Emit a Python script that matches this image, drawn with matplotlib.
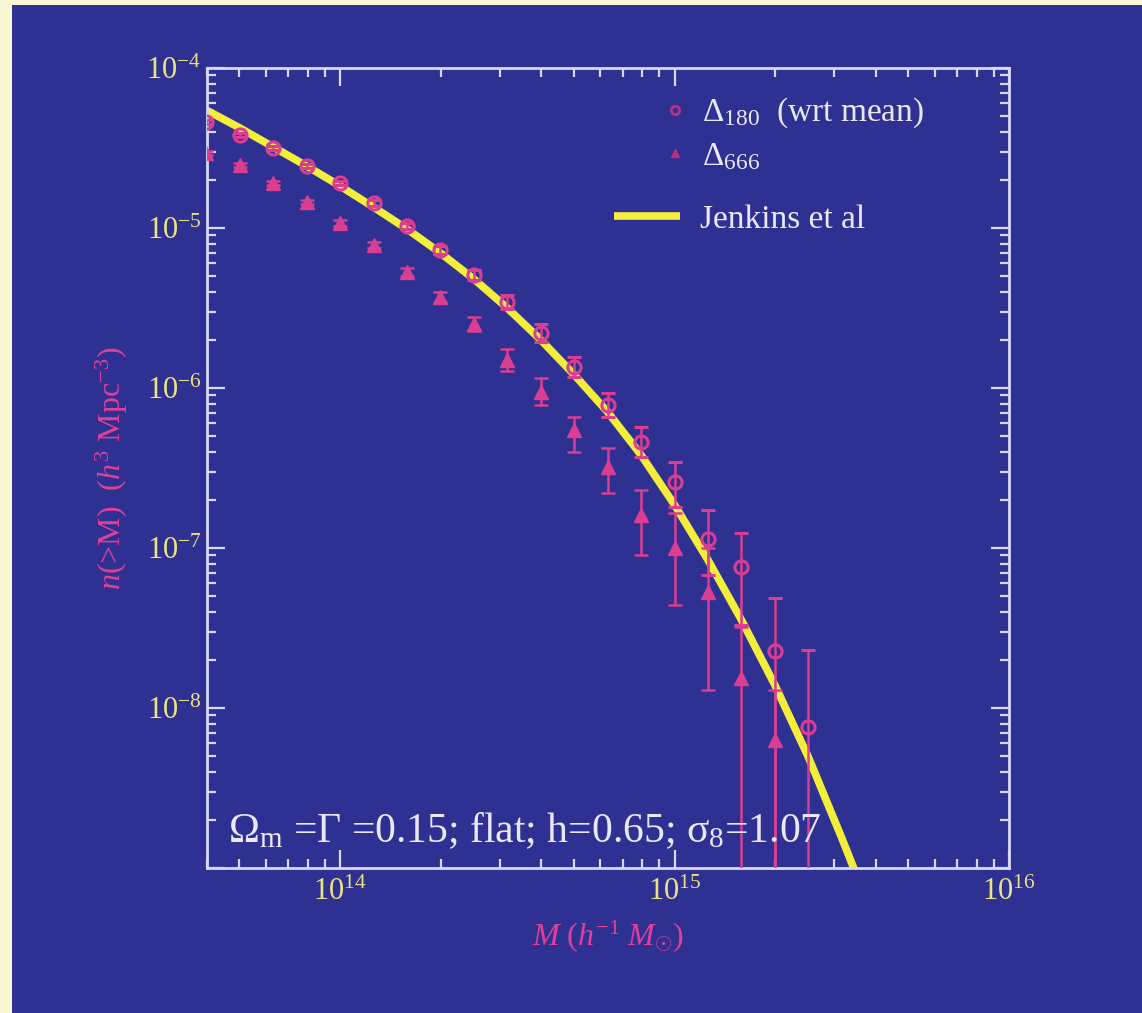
import matplotlib
matplotlib.use("Agg")
import matplotlib.pyplot as plt
import numpy as np
from matplotlib.lines import Line2D
from matplotlib.patches import Rectangle
from matplotlib.ticker import FixedLocator, FixedFormatter, NullFormatter

# ---- data ----
log_mass = [13.6, 13.7, 13.8, 13.9, 14.0, 14.1, 14.2, 14.3, 14.4, 14.5,
            14.6, 14.7, 14.8, 14.9, 15.0, 15.1, 15.2, 15.3, 15.4]

# Delta_180 (wrt mean): value, upper and lower bound of the error bar
n180 = [4.60e-5, 3.81e-5, 3.16e-5, 2.44e-5, 1.91e-5, 1.43e-5, 1.03e-5, 7.29e-6, 5.08e-6, 3.45e-6,
        2.21e-6, 1.35e-6, 7.83e-7, 4.60e-7, 2.59e-7, 1.14e-7, 7.61e-8, 2.27e-8, 7.61e-9]
n180_hi = [4.73e-5, 3.93e-5, 3.25e-5, 2.51e-5, 1.97e-5, 1.50e-5, 1.07e-5, 7.72e-6, 5.46e-6, 3.81e-6,
           2.51e-6, 1.56e-6, 9.30e-7, 5.70e-7, 3.45e-7, 1.73e-7, 1.24e-7, 4.87e-8, 2.30e-8]
n180_lo = [4.47e-5, 3.71e-5, 3.07e-5, 2.37e-5, 1.86e-5, 1.37e-5, 9.86e-6, 6.88e-6, 4.73e-6, 3.12e-6,
           1.94e-6, 1.17e-6, 6.59e-7, 3.70e-7, 1.80e-7, 6.78e-8, 3.30e-8, 0.0, 0.0]

# Delta_666
log_mass666 = log_mass[:-1]
n666 = [2.94e-5, 2.48e-5, 1.91e-5, 1.45e-5, 1.07e-5, 7.83e-6, 5.31e-6, 3.70e-6, 2.51e-6, 1.50e-6,
        9.44e-7, 5.46e-7, 3.21e-7, 1.61e-7, 1.00e-7, 5.31e-8, 1.54e-8, 6.3e-9]
n666_hi = [3.03e-5, 2.55e-5, 1.97e-5, 1.50e-5, 1.12e-5, 8.18e-6, 5.62e-6, 3.98e-6, 2.78e-6, 1.75e-6,
           1.15e-6, 6.59e-7, 4.22e-7, 2.30e-7, 1.66e-7, 1.00e-7, 3.21e-8, 1.30e-8]
n666_lo = [2.86e-5, 2.41e-5, 1.86e-5, 1.41e-5, 1.03e-5, 7.50e-6, 5.01e-6, 3.45e-6, 2.27e-6, 1.28e-6,
           7.83e-7, 3.98e-7, 2.21e-7, 9.04e-8, 4.41e-8, 1.30e-8, 0.0, 0.0]

# Jenkins et al fit, traced
jenkins_logm = [13.6, 13.7, 13.8, 13.9, 14.0, 14.1, 14.2, 14.3, 14.4, 14.5, 14.6,
                14.7, 14.8, 14.9, 15.0, 15.1, 15.2, 15.3, 15.4, 15.5, 15.55]
jenkins_n = [5.46e-5, 4.22e-5, 3.21e-5, 2.44e-5, 1.83e-5, 1.35e-5, 9.86e-6, 6.98e-6, 4.80e-6,
             3.16e-6, 2.00e-6, 1.21e-6, 7.08e-7, 3.81e-7, 1.86e-7, 8.41e-8, 3.55e-8,
             1.39e-8, 4.94e-9, 1.54e-9, 8.4e-10]

# ---- style ----
BLUE = '#2E3192'
CREAM = '#FBF6D4'
PINK = '#DA3E93'
LEG_PINK = '#B8307F'
LABEL_PINK = '#E0409A'
TICK_YELLOW = '#ECE483'
FRAME = '#D8D8F6'
TEXT_WHITE = '#E8E8F6'
YELLOW = '#F4EE3A'

plt.rcParams['font.family'] = ['Liberation Serif', 'DejaVu Serif']
plt.rcParams['mathtext.fontset'] = 'custom'
plt.rcParams['mathtext.rm'] = 'Liberation Serif'
plt.rcParams['mathtext.it'] = 'Liberation Serif:italic'
plt.rcParams['mathtext.bf'] = 'Liberation Serif:bold'

# blue panel with a thin cream strip on the left and top
fig = plt.figure(figsize=(11.42, 10.13), dpi=100, facecolor=BLUE)
fig.patches.append(Rectangle((0, 0), 12 / 1142, 1, transform=fig.transFigure,
                             facecolor=CREAM, edgecolor='none', zorder=-10))
fig.patches.append(Rectangle((0, 1 - 5 / 1013), 1, 5 / 1013, transform=fig.transFigure,
                             facecolor=CREAM, edgecolor='none', zorder=-10))

ax = fig.add_axes([207 / 1142, 1 - 868 / 1013, 802 / 1142, 800 / 1013])
ax.set_facecolor(BLUE)
ax.set_xscale('log')
ax.set_yscale('log')

M = 10 ** np.array(log_mass)
M666 = 10 ** np.array(log_mass666)


def yerr(val, lo, hi):
    val = np.array(val)
    lo = np.maximum(np.array(lo), 1e-14)
    return [val - lo, np.array(hi) - val]


ax.plot(10 ** np.array(jenkins_logm), jenkins_n, color=YELLOW, lw=5.5,
        solid_capstyle='butt', zorder=2)

ax.errorbar(M, n180, yerr=yerr(n180, n180_lo, n180_hi), fmt='o', ms=9.5,
            mfc='none', mec=PINK, mew=2.2, ecolor=PINK, elinewidth=1.8,
            capsize=5, capthick=1.8, zorder=3)
ax.errorbar(M666, n666, yerr=yerr(n666, n666_lo, n666_hi), fmt='^', ms=9.5,
            mfc=PINK, mec=PINK, ecolor=PINK, elinewidth=1.8,
            capsize=5, capthick=1.8, zorder=3)

ax.set_xlim(4e13, 1e16)
ax.set_ylim(1e-9, 1e-4)

# ticks
xmaj = [1e14, 1e15, 1e16]
ax.xaxis.set_major_locator(FixedLocator(xmaj))
ax.xaxis.set_major_formatter(FixedFormatter([r'$10^{14}$', r'$10^{15}$', r'$10^{16}$']))
xmin = [k * 10.0 ** d for d in (13, 14, 15) for k in range(2, 10)]
ax.xaxis.set_minor_locator(FixedLocator(xmin))
ax.xaxis.set_minor_formatter(NullFormatter())

ymaj = [1e-9, 1e-8, 1e-7, 1e-6, 1e-5, 1e-4]
ax.yaxis.set_major_locator(FixedLocator(ymaj))
ax.yaxis.set_major_formatter(FixedFormatter(['', r'$10^{-8}$', r'$10^{-7}$',
                                             r'$10^{-6}$', r'$10^{-5}$', r'$10^{-4}$']))
ymin = [k * 10.0 ** d for d in (-9, -8, -7, -6, -5) for k in range(2, 10)]
ax.yaxis.set_minor_locator(FixedLocator(ymin))
ax.yaxis.set_minor_formatter(NullFormatter())

ax.tick_params(which='both', direction='in', top=True, right=True,
               color=FRAME, width=1.6)
ax.tick_params(which='major', length=13, labelsize=22, labelcolor=TICK_YELLOW)
ax.tick_params(which='minor', length=6.5)
ax.tick_params(axis='x', which='major', pad=7)
ax.tick_params(axis='y', which='major', pad=4)
for s in ax.spines.values():
    s.set_color(FRAME)
    s.set_linewidth(2)

ax.set_xlabel(r'$M\ (h^{-1}\ M_{\odot})$', color=LABEL_PINK, fontsize=23, labelpad=8)
ax.set_ylabel(r'$n$(>M)  ($h^3$ Mpc$^{-3}$)', color=LABEL_PINK, fontsize=23, labelpad=12)

ax.text(0.026, 0.033, r'Ω$_{\rm m}$ =Γ =0.15; flat; h=0.65; σ$_8$=1.07',
        transform=ax.transAxes, color=TEXT_WHITE, fontsize=30, va='baseline')

# legends
h1 = [Line2D([], [], ls='none', marker='o', ms=6, mfc='none', mec=LEG_PINK, mew=2),
      Line2D([], [], ls='none', marker='^', ms=6, mfc=LEG_PINK, mec=LEG_PINK)]
leg1 = ax.legend(h1, [r'Δ$_{180}$  (wrt mean)', r'Δ$_{666}$'], loc='upper left',
                 bbox_to_anchor=(0.565, 0.965), frameon=False, fontsize=24,
                 handlelength=0.9, handletextpad=0.35, labelspacing=0.32,
                 borderaxespad=0, borderpad=0)
for t in leg1.get_texts():
    t.set_color(TEXT_WHITE)
ax.add_artist(leg1)

h2 = [Line2D([], [], color=YELLOW, lw=5.5, solid_capstyle='butt')]
leg2 = ax.legend(h2, ['Jenkins et al'], loc='upper left',
                 bbox_to_anchor=(0.507, 0.83), frameon=False, fontsize=24,
                 handlelength=2.0, handletextpad=0.6,
                 borderaxespad=0, borderpad=0)
for t in leg2.get_texts():
    t.set_color(TEXT_WHITE)

fig.savefig('out.png', dpi=100, facecolor=BLUE)
